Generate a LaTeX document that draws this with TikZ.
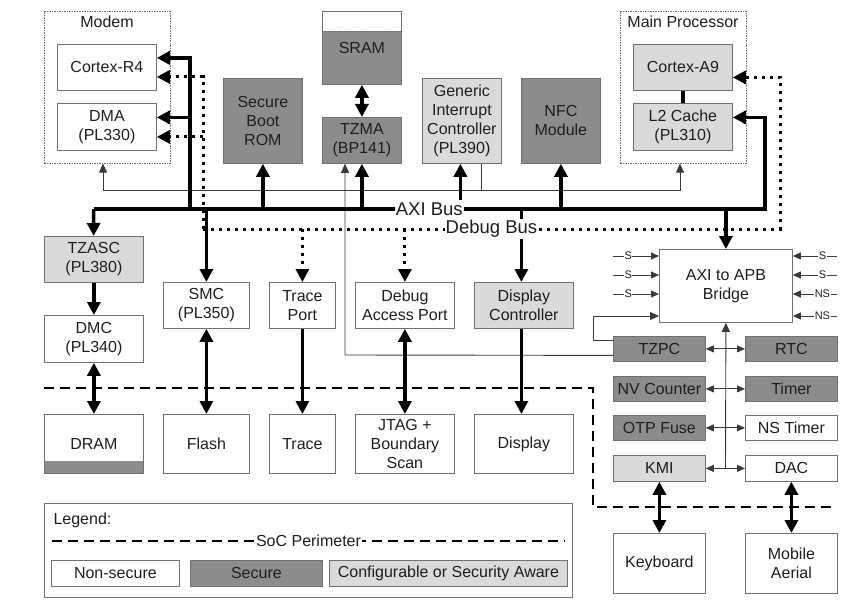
\documentclass[tikz,border=0pt]{standalone}
\usepackage{fontspec}
\setmainfont{Liberation Sans}
\usetikzlibrary{arrows.meta,positioning}
\definecolor{Ink}{HTML}{1E1E1E}
\definecolor{SecFill}{HTML}{8C8C8C}
\definecolor{CfgFill}{HTML}{DADADA}
\definecolor{EdgeGray}{HTML}{707070}
\definecolor{WireGray}{HTML}{3A3A3A}

\begin{document}
\begin{tikzpicture}[x=1pt,y=-1pt,
    font=\fontsize{16}{19}\selectfont,text=Ink,
    blk/.style 2 args={draw=EdgeGray,line width=0.8pt,anchor=north west,align=center,
      inner sep=0pt,minimum width=#1,minimum height=#2},
    sec/.style={fill=SecFill},
    cfg/.style={fill=CfgFill},
    grp/.style 2 args={draw=EdgeGray,line width=0.6pt,dash pattern=on 1.5pt off 1pt,
      anchor=north west,inner sep=0pt,minimum width=#1,minimum height=#2},
    sramfill/.style={path picture={
      \fill[SecFill] ([yshift=-20pt]path picture bounding box.north west)
        rectangle (path picture bounding box.south east);
      \draw[EdgeGray,densely dotted,line width=0.8pt]
        ([yshift=-20pt]path picture bounding box.north west)
        -- ([yshift=-20pt]path picture bounding box.north east);}},
    dramfill/.style={path picture={
      \fill[SecFill] ([yshift=12pt]path picture bounding box.south west)
        rectangle (path picture bounding box.south east);}},
    BigTri/.tip={Triangle[length=13pt,width=13pt]},
    SmlTri/.tip={Triangle[length=9pt,width=8pt]},
    TinyTri/.tip={Triangle[length=8pt,width=7pt]},
    bus/.style={line width=3.5pt,draw=black},
    dbg/.style={line width=3pt,draw=black,dash pattern=on 3pt off 5pt},
    wire/.style={line width=0.9pt,draw=WireGray},
    perim/.style={line width=2.5pt,draw=black,dash pattern=on 10pt off 6pt},
    sig/.style={fill=white,inner sep=0.6pt,pos=0.33,font=\fontsize{11}{12}\selectfont},
    buslbl/.style={fill=white,inner sep=1pt,font=\fontsize{18.5}{20}\selectfont}]
  \useasboundingbox (0,0) rectangle (861,615);

  % soc perimeter
  \coordinate (socA) at (44,388);
  \coordinate (socB) at (593,388);
  \coordinate (socC) at (593,507);
  \coordinate (socD) at (837,507);
  \draw[perim] (socA)--(socB)--(socC)--(socD);

  % top row
  \node[grp={126pt}{152pt}] (modem) at (44,11) {};
  \node (modemlbl) at (107,22) {Modem};
  \node[blk={99pt}{46pt}] (cr4) at (57,44) {Cortex-R4};
  \node[blk={99pt}{47pt}] (dma) at (57,103) {DMA\\(PL330)};
  \node[blk={79pt}{85pt},sec] (rom) at (223,78) {Secure\\Boot\\ROM};
  \node[blk={79pt}{73pt},sramfill] (sram) at (322,11) {SRAM};
  \node[blk={79pt}{46pt},sec] (tzma) at (322,117) {TZMA\\(BP141)};
  \node[blk={79pt}{85pt},cfg] (gic) at (422,78) {Generic\\Interrupt\\Controller\\(PL390)};
  \node[blk={79pt}{85pt},sec] (nfc) at (521,78) {NFC\\Module};
  \node[grp={126pt}{152pt}] (mainp) at (620,11) {};
  \node (mainplbl) at (683,22) {Main Processor};
  \node[blk={99pt}{46pt},cfg] (ca9) at (633,44) {Cortex-A9};
  \node[blk={99pt}{47pt},cfg] (l2) at (633,103) {L2 Cache\\(PL310)};

  % memory and debug column
  \node[blk={99pt}{46pt},cfg] (tzasc) at (44,236) {TZASC\\(PL380)};
  \node[blk={99pt}{47pt}] (dmc) at (44,315) {DMC\\(PL340)};
  \node[blk={99pt}{59pt},dramfill] (dram) at (44,414) {DRAM};
  \node[blk={86pt}{46pt}] (smc) at (163,282) {SMC\\(PL350)};
  \node[blk={86pt}{59pt}] (flash) at (163,414) {Flash};
  \node[blk={66pt}{46pt}] (tport) at (269,282) {Trace\\Port};
  \node[blk={66pt}{59pt}] (trace) at (269,414) {Trace};
  \node[blk={99pt}{46pt}] (dap) at (355,282) {Debug\\Access Port};
  \node[blk={99pt}{59pt}] (jtag) at (355,414) {JTAG +\\Boundary\\Scan};
  \node[blk={99pt}{46pt},cfg] (dispc) at (474,282) {Display\\Controller};
  \node[blk={99pt}{59pt}] (disp) at (474,414) {Display};

  % apb side
  \node[blk={133pt}{73pt}] (bridge) at (659,249) {AXI to APB\\Bridge};
  \node[blk={92pt}{25pt},sec] (tzpc) at (613,336) {TZPC};
  \node[blk={92pt}{25pt},sec] (rtc) at (745,336) {RTC};
  \node[blk={92pt}{25pt},sec] (nvc) at (613,376) {NV Counter};
  \node[blk={92pt}{25pt},sec] (timer) at (745,376) {Timer};
  \node[blk={92pt}{25pt},sec] (otp) at (613,415) {OTP Fuse};
  \node[blk={92pt}{25pt}] (nstimer) at (745,415) {NS Timer};
  \node[blk={92pt}{26pt},cfg] (kmi) at (613,455) {KMI};
  \node[blk={92pt}{26pt}] (dac) at (745,455) {DAC};
  \node[blk={92pt}{60pt}] (kbd) at (613,533) {Keyboard};
  \node[blk={92pt}{60pt}] (aerial) at (745,533) {Mobile\\Aerial};

  % thin wires
  \coordinate (wW) at (103,190);
  \coordinate (wE) at (680,190);
  \draw[wire,SmlTri-SmlTri] (wW |- modem.south)--(wW)--(wE)--(wE |- mainp.south);
  \draw[wire] ([xshift=19.5pt]gic.south)--([xshift=19.5pt]gic.south |- wE);
  \coordinate (wT) at (345,355);
  \draw[wire,-SmlTri] ([yshift=-6.5pt]tzpc.west)--(wT)--(wT |- tzma.south);
  \coordinate (wL) at (593,316);
  \draw[wire,-SmlTri] ([yshift=8.5pt]tzpc.west) -| (wL)--(bridge.west |- wL);
  \coordinate (tBot) at (725.5,468);
  \draw[wire,-SmlTri] (tBot)--(bridge.south);
  \foreach \pl/\pr in {tzpc/rtc,nvc/timer,otp/nstimer,kmi/dac}
    \draw[wire,TinyTri-TinyTri] (\pl)--(\pr);
  \foreach \yy [count=\i] in {256,275,294}{
    \coordinate (sin\i) at (613,\yy);
    \draw[wire,-TinyTri] (sin\i)--node[sig] (sinl\i) {S} (bridge.west |- sin\i);
  }
  \foreach \yy/\tt [count=\i] in {256/S,275/S,294/NS,316/NS}{
    \coordinate (sout\i) at (837,\yy);
    \draw[wire,-TinyTri] (sout\i)--node[sig] (soutl\i) {\tt} (bridge.east |- sout\i);
  }

  % axi bus
  \coordinate (axiW) at (93.5,209);
  \coordinate (axiE) at (765,209);
  \coordinate (jmod) at (190,209);
  \draw[bus,-BigTri] (axiW)--(tzasc);
  \draw[bus,-BigTri] (jmod) |- ([yshift=9.5pt]cr4.east);
  \draw[bus,-BigTri] ([yshift=9.5pt]dma.east -| jmod)--([yshift=9.5pt]dma.east);
  \draw[bus,-BigTri] (smc.north |- axiW)--(smc);
  \draw[bus,-BigTri] (rom.south |- axiW)--(rom);
  \draw[bus,-BigTri] (tzma.south |- axiW)--(tzma);
  \draw[bus,-BigTri] (nfc.south |- axiW)--(nfc);
  \draw[bus,-BigTri] (bridge.north |- axiW)--(bridge);
  \draw[bus] ([xshift=-2.5pt]dispc.north |- axiW)--([xshift=-2.5pt]dispc.north |- 0,236);
  \draw[bus,-BigTri] ([xshift=-2.5pt]dispc.north |- 0,236)--([xshift=-2.5pt]dispc.north);
  \draw[bus,-BigTri] (axiW)--node[buslbl] (axilbl) {AXI Bus} (axiE) |- ([yshift=9.5pt]l2.east);
  \draw[bus,-BigTri] ([xshift=-1.5pt]axilbl.north -| gic.south)--([xshift=-1.5pt]gic.south);

  % debug bus
  \coordinate (dbgW) at (203,229);
  \coordinate (dbgE) at (780,229);
  \draw[dbg,-BigTri] (dbgW) |- ([yshift=-9.5pt]cr4.east);
  \draw[dbg,-BigTri] ([yshift=-10pt]dma.east -| dbgW)--([yshift=-10pt]dma.east);
  \draw[dbg,-BigTri] (tport.north |- dbgW)--(tport);
  \draw[dbg,-BigTri] (dap.north |- dbgW)--(dap);
  \draw[dbg,-BigTri] (dbgW)--node[buslbl] (dbglbl) {Debug Bus} (dbgE) |- ([yshift=-10pt]ca9.east);

  % point to point links
  \draw[bus,BigTri-BigTri] (sram)--(tzma);
  \draw[bus] (ca9)--(l2);
  \draw[bus,-BigTri] (tzasc)--(dmc);
  \draw[bus,BigTri-BigTri] (dmc)--(dram);
  \draw[bus,BigTri-BigTri] (smc)--(flash);
  \draw[bus,-BigTri] (tport)--(trace);
  \draw[bus,BigTri-BigTri] (dap)--(jtag);
  \draw[bus,-BigTri] ([xshift=-2.5pt]dispc.south)--([xshift=-2.5pt]disp.north);
  \draw[bus,BigTri-BigTri] (kmi)--(kbd);
  \draw[bus,BigTri-BigTri] (dac)--(aerial);

  % legend
  \node[blk={528pt}{94pt}] (legend) at (44,503) {};
  \node[anchor=west] (legendlbl) at (50,520) {Legend:};
  \coordinate (lgL) at (52,541);
  \coordinate (lgR) at (565,541);
  \draw[perim] (lgL)--node[fill=white,inner sep=1pt] (soclbl) {SoC Perimeter} (lgR);
  \node[blk={128pt}{26pt}] (lgns) at (51,560) {Non-secure};
  \node[blk={132pt}{26pt},sec] (lgsec) at (190,560) {Secure};
  \node[blk={238pt}{26pt},cfg] (lgcfg) at (329,560) {Configurable or Security Aware};
\end{tikzpicture}
\end{document}
